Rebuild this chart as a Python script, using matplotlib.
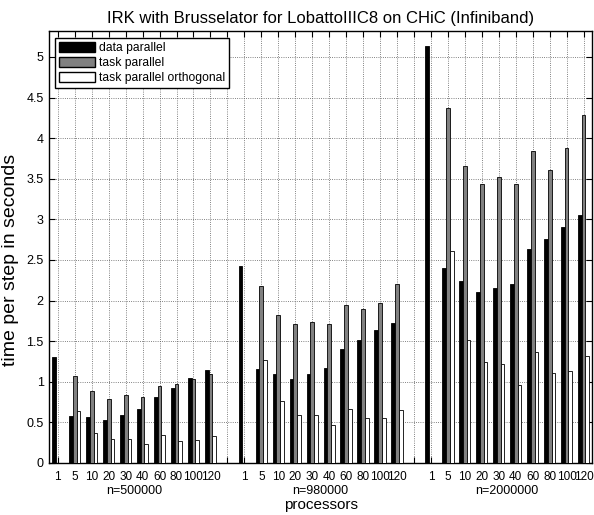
import numpy as np
import matplotlib.pyplot as plt
from matplotlib.patches import Patch

plt.rcParams['font.family'] = ['Liberation Sans', 'DejaVu Sans']

nan = np.nan
procs = ['1', '5', '10', '20', '30', '40', '60', '80', '100', '120']
sizes = ['n=500000', 'n=980000', 'n=2000000']

# time per step in seconds, one row per problem size
data_parallel = [
    [1.30, 0.575, 0.57, 0.534, 0.596, 0.665, 0.818, 0.92, 1.052, 1.142],
    [2.43, 1.162, 1.092, 1.04, 1.092, 1.166, 1.409, 1.511, 1.643, 1.724],
    [5.14, 2.40, 2.24, 2.106, 2.155, 2.21, 2.64, 2.76, 2.91, 3.06],
]
task_parallel = [
    [nan, 1.07, 0.887, 0.785, 0.838, 0.818, 0.945, 0.978, 1.035, 1.10],
    [nan, 2.18, 1.82, 1.708, 1.737, 1.708, 1.95, 1.90, 1.975, 2.20],
    [nan, 4.377, 3.66, 3.43, 3.52, 3.44, 3.84, 3.61, 3.88, 4.29],
]
orthogonal = [
    [nan, 0.645, 0.37, 0.30, 0.296, 0.239, 0.341, 0.276, 0.288, 0.337],
    [nan, 1.265, 0.76, 0.596, 0.587, 0.464, 0.665, 0.55, 0.559, 0.649],
    [nan, 2.61, 1.52, 1.24, 1.22, 0.96, 1.37, 1.11, 1.13, 1.32],
]

fig = plt.figure(figsize=(5.94, 5.15), dpi=100)
ax = fig.add_axes([0.083, 0.101, 0.9137, 0.8388])

w = 0.222
n = len(procs)
for g in range(len(sizes)):
    x = g * (n + 1) + np.arange(1, n + 1)
    ax.bar(x - w, data_parallel[g], w, color='black', edgecolor='black', linewidth=0.6, zorder=3)
    ax.bar(x, task_parallel[g], w, color='0.5', edgecolor='black', linewidth=0.6, zorder=3)
    ax.bar(x + w, orthogonal[g], w, color='white', edgecolor='black', linewidth=0.6, zorder=3)
    ax.text(g * (n + 1) + 5.5, -0.064, sizes[g], transform=ax.get_xaxis_transform(),
            ha='center', va='center', fontsize=9)

nticks = len(sizes) * (n + 1) - 1
labels = [(procs + [''])[i % (n + 1)] for i in range(nticks)]
ax.set_xticks(np.arange(1, nticks + 1))
ax.set_xticklabels(labels, fontsize=8.5)
ax.set_xlim(0.5, nticks + 0.5)
ax.set_ylim(0, 5.32)
ax.set_yticks(np.arange(0, 5.01, 0.5))
ax.set_yticklabels(['0', '0.5', '1', '1.5', '2', '2.5', '3', '3.5', '4', '4.5', '5'], fontsize=9)

ax.tick_params(direction='in', top=True, right=True, length=4, width=0.8)
ax.tick_params(axis='x', pad=6)
ax.tick_params(axis='y', pad=4)
ax.grid(True, linestyle=':', color='0.35', linewidth=0.6, zorder=0)
ax.set_axisbelow(True)
for s in ax.spines.values():
    s.set_linewidth(1.0)

ax.set_title('IRK with Brusselator for LobattoIIIC8 on CHiC (Infiniband)', fontsize=12, pad=6)
ax.set_ylabel('time per step in seconds', fontsize=14)
ax.yaxis.set_label_coords(-0.055, 0.47)
ax.text(0.5, -0.097, 'processors', transform=ax.transAxes, ha='center', va='center', fontsize=11)

handles = [Patch(facecolor='black', edgecolor='black', label='data parallel'),
           Patch(facecolor='0.5', edgecolor='black', label='task parallel'),
           Patch(facecolor='white', edgecolor='black', label='task parallel orthogonal')]
leg = ax.legend(handles=handles, loc='upper left', bbox_to_anchor=(0.011, 0.984), borderaxespad=0,
                fontsize=8.7, fancybox=False, framealpha=1, edgecolor='black',
                handlelength=3.0, handleheight=0.9, handletextpad=0.3, labelspacing=0.25,
                borderpad=0.3)
leg.get_frame().set_linewidth(1.0)

fig.savefig('out.png', dpi=100)
